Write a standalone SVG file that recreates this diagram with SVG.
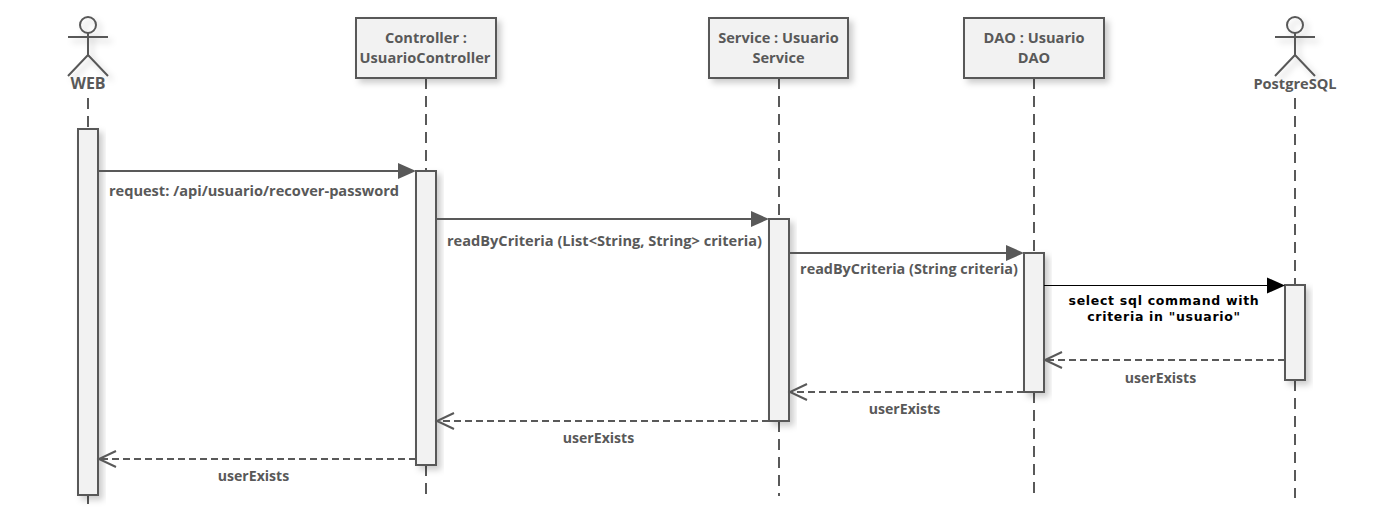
<svg xmlns="http://www.w3.org/2000/svg" width="1385" height="524" viewBox="0 0 1385 524">
<style>
text{font-family:"Open Sans","Noto Sans","Liberation Sans",sans-serif;font-size:14.6px;font-weight:700;fill:#595959;text-anchor:middle}
.b{fill:#f2f2f2;stroke:#595959;stroke-width:2;filter:url(#s)}
.act{fill:#f2f2f2;stroke:#595959;stroke-width:2;filter:url(#s)}
.ll{stroke:#595959;stroke-width:2;stroke-dasharray:11 7;fill:none}
.fig{fill:none;stroke:#595959;stroke-width:2}
.m{stroke:#595959;stroke-width:2;fill:none}
.r{stroke:#595959;stroke-width:2;stroke-dasharray:7 4;fill:none}
.o{stroke:#595959;stroke-width:2;fill:none}
.u{font-size:14.1px}
.k{font-family:"DejaVu Sans",Verdana,sans-serif;font-size:12.5px;letter-spacing:.7px;fill:#000}
</style>
<defs>
<filter id="s" x="-30%" y="-30%" width="170%" height="170%"><feDropShadow dx="4" dy="4" stdDeviation="3" flood-color="#000" flood-opacity=".2"/></filter>
</defs>
<g id="lifelines">
<path class="ll" d="M88 98V129M88 495V504"/>
<path class="ll" d="M426 78V171M426 465V498"/>
<path class="ll" d="M779 78V219M779 421V496"/>
<path class="ll" d="M1034 78V253M1034 392V498"/>
<path class="ll" d="M1295 98V285M1295 380V498"/>
</g>
<g id="node-web">
<g class="fig" filter="url(#s)"><circle cx="88" cy="25" r="8"/><path d="M68 37H108M88 33V55M68 76L88 55L108 76"/></g>
<text x="88" y="89" style="font-size:16px">WEB</text>
<rect class="act" x="78" y="129" width="20" height="366"/>
</g>
<g id="node-controller">
<rect class="b" x="356" y="18" width="140" height="60"/>
<text x="426" y="43">Controller :</text><text x="425" y="63">UsuarioController</text>
<rect class="act" x="416" y="171" width="20" height="294"/>
</g>
<g id="node-service">
<rect class="b" x="709" y="18" width="139" height="60"/>
<text x="778.5" y="43">Service : Usuario</text><text x="778.5" y="63">Service</text>
<rect class="act" x="769" y="219" width="20" height="202"/>
</g>
<g id="node-dao">
<rect class="b" x="964" y="18" width="140" height="60"/>
<text x="1034" y="43">DAO : Usuario</text><text x="1034" y="63">DAO</text>
<rect class="act" x="1024" y="253" width="20" height="139"/>
</g>
<g id="node-postgresql">
<g class="fig" filter="url(#s)"><circle cx="1295" cy="25" r="8"/><path d="M1275 37H1315M1295 33V55M1275 76L1295 55L1315 76"/></g>
<text x="1295" y="89">PostgreSQL</text>
<rect class="act" x="1285" y="285" width="20" height="95"/>
</g>
<g id="connectors">
<path class="m" d="M98 171H400"/><path d="M398 163L416 171L398 179Z" fill="#595959"/>
<path class="m" d="M436 219H753"/><path d="M751 211L769 219L751 227Z" fill="#595959"/>
<path class="m" d="M789 253H1008"/><path d="M1006 245L1024 253L1006 261Z" fill="#595959"/>
<path d="M1044 285.5H1270" stroke="#000" stroke-width="1" fill="none"/><path d="M1267 277.5L1285 285.5L1267 293.5Z" fill="#000"/>
<path class="r" d="M1285 360H1045"/><path class="o" d="M1062 352L1045 360L1062 368"/>
<path class="r" d="M1024 392H790"/><path class="o" d="M807 384L790 392L807 400"/>
<path class="r" d="M769 421H437"/><path class="o" d="M454 413L437 421L454 429"/>
<path class="r" d="M416 459H99"/><path class="o" d="M116 451L99 459L116 467"/>
</g>
<g id="labels">
<text x="254" y="196">request: /api/usuario/recover-password</text>
<text x="604.5" y="246">readByCriteria (List&lt;String, String&gt; criteria)</text>
<text x="909" y="274" style="font-size:14.4px">readByCriteria (String criteria)</text>
<text class="k" x="1164" y="305">select sql command with</text>
<text class="k" x="1164" y="321">criteria in "usuario"</text>
<text class="u" x="1160.5" y="383">userExists</text>
<text class="u" x="904.5" y="414">userExists</text>
<text class="u" x="598.5" y="443">userExists</text>
<text class="u" x="253.5" y="481">userExists</text>
</g>
</svg>
